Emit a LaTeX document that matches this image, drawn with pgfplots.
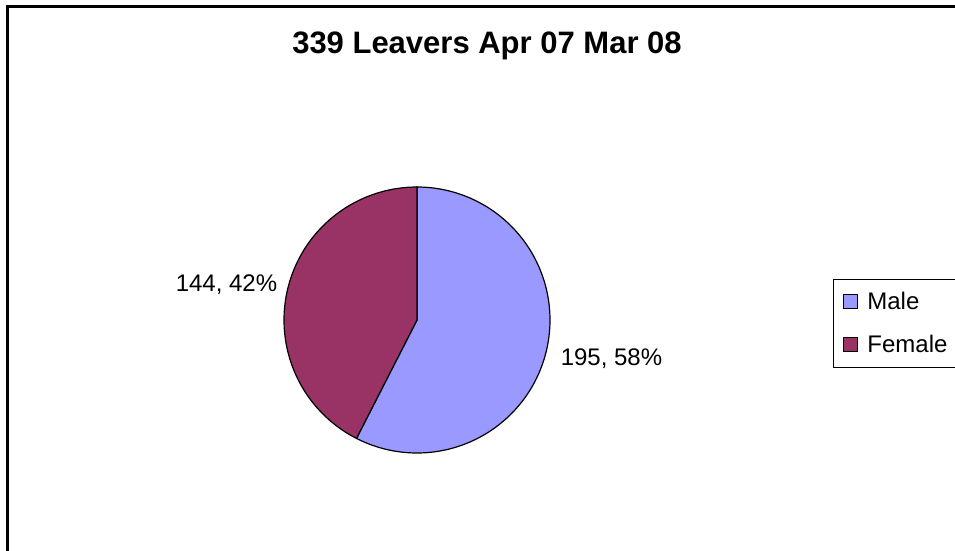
\documentclass[border=0pt]{standalone}
\usepackage{fontspec}
\setmainfont{Liberation Sans}
\usepackage{pgfplots}
\usepackage{pgfplotstable}
\pgfplotsset{compat=1.18}

\definecolor{male}{HTML}{9999FF}
\definecolor{female}{HTML}{993366}

% leavers by gender
\pgfplotstableread{
group  count
Male   195
Female 144
}\leavers

\pgfplotstablegetelem{0}{count}\of\leavers \let\nmale\pgfplotsretval
\pgfplotstablegetelem{1}{count}\of\leavers \let\nfemale\pgfplotsretval
\pgfmathsetmacro{\total}{\nmale+\nfemale}
\pgfmathsetmacro{\splitang}{90-360*(\nmale/\total)}

% pie geometry in picture pixels (1pt = 1px)
\def\cx{417}
\def\cy{230}
\def\rr{133}

\begin{document}
\begin{tikzpicture}
\begin{axis}[
    at={(0,0)}, anchor=south west,
    width=955pt, height=550pt,
    scale only axis,
    xmin=0, xmax=955, ymin=0, ymax=550,
    hide axis,
    clip=false,
    legend style={
        at={(axis cs:833,271)}, anchor=north west,
        draw=black, line width=0.8pt,
        font=\fontsize{24}{28}\selectfont,
        inner xsep=10pt, inner ysep=13pt,
        row sep=24pt, column sep=9pt,
        nodes={inner sep=0pt},
    },
    legend cell align=left,
    legend image code/.code={
        \draw[#1, draw=black, line width=1pt] (0pt,-7pt) rectangle (14pt,7pt);
    },
]
\addplot[fill=male, draw=black, line width=1.2pt, domain=90:\splitang, samples=120, variable=\t]
    ({\cx+\rr*cos(t)}, {\cy+\rr*sin(t)}) -- (axis cs:\cx,\cy) -- cycle;
\addlegendentry{Male}
\addplot[fill=female, draw=black, line width=1.2pt, domain=\splitang:-270, samples=120, variable=\t]
    ({\cx+\rr*cos(t)}, {\cy+\rr*sin(t)}) -- (axis cs:\cx,\cy) -- cycle;
\addlegendentry{Female}

\node[font=\fontsize{31}{36}\selectfont\bfseries] at (axis cs:487,504) {339 Leavers Apr 07 Mar 08};
\node[font=\fontsize{24}{28}\selectfont, anchor=base] at (axis cs:226.5,258.3) {144, 42\%};
\node[font=\fontsize{24}{28}\selectfont, anchor=base] at (axis cs:611.5,185) {195, 58\%};

% chart area border: only its left and top sides lie inside the picture
\draw[black, line width=3pt] (axis cs:7,-40) -- (axis cs:7,543) -- (axis cs:1000,543);
\end{axis}
\pgfresetboundingbox
\useasboundingbox (0,0) rectangle (955pt,550pt);
\end{tikzpicture}
\end{document}
